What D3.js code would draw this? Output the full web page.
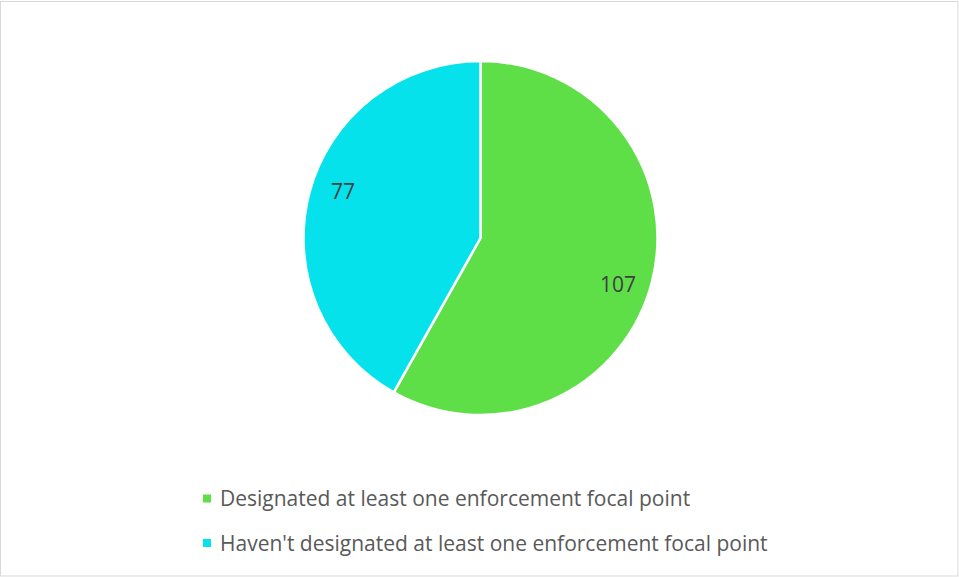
<!DOCTYPE html>
<html>
<head>
<meta charset="utf-8">
<script src="https://cdn.jsdelivr.net/npm/d3@7"></script>
<style>
  html, body { margin: 0; padding: 0; background: #fff; }
  svg { display: block; }
  text { font-family: "Open Sans", "Liberation Sans", sans-serif; fill: #404040; }
  .row text { fill: #595959; }
</style>
</head>
<body>
<svg id="chart" width="959" height="577"></svg>
<script>
// Survey result: focal point designation
const categories = [
  "Designated at least one enforcement focal point",
  "Haven't designated at least one enforcement focal point"
];
const values = [107, 77];
const colors = ["#5EDF48", "#06E2EB"];

const width = 959, height = 577;
const svg = d3.select("#chart");

// Chart area frame
svg.append("rect")
  .attr("x", 0.5).attr("y", 1.5)
  .attr("width", width - 1.5).attr("height", height - 2.5)
  .attr("fill", "#fff")
  .attr("stroke", "#d9d9d9").attr("stroke-width", 1);

const cx = 480.5, cy = 238, r = 177;
const g = svg.append("g").attr("transform", `translate(${cx},${cy})`);

const pie = d3.pie().sort(null).value(d => d.value);
const arcs = pie(categories.map((c, i) => ({ name: c, value: values[i], color: colors[i] })));

const arc = d3.arc().innerRadius(0).outerRadius(r);
const labelR = r * 0.82;
const labelShift = 0.07; // small clockwise nudge for data labels

g.selectAll("path.slice")
  .data(arcs)
  .join("path")
  .attr("class", "slice")
  .attr("d", arc)
  .attr("fill", d => d.data.color)
  .attr("stroke", "#fff")
  .attr("stroke-width", 2.5)
  .attr("stroke-linejoin", "round");

g.selectAll("text.val")
  .data(arcs)
  .join("text")
  .attr("class", "val")
  .attr("transform", d => {
    const a = (d.startAngle + d.endAngle) / 2 + labelShift;
    return `translate(${Math.sin(a) * labelR},${-Math.cos(a) * labelR})`;
  })
  .attr("text-anchor", "middle")
  .attr("dy", "0.35em")
  .style("font-size", "21px")
  .text(d => d.data.value);

// Legend
const legend = svg.append("g");
const rows = legend.selectAll("g.row")
  .data(categories)
  .join("g")
  .attr("class", "row")
  .attr("transform", (d, i) => `translate(203, ${498.5 + i * 44.5})`);

rows.append("rect")
  .attr("x", 0).attr("y", -4)
  .attr("width", 8).attr("height", 8)
  .attr("fill", (d, i) => colors[i]);

rows.append("text")
  .attr("x", 17)
  .attr("y", 7.5)
  .style("font-size", "21px")
  .text(d => d);
</script>
</body>
</html>
